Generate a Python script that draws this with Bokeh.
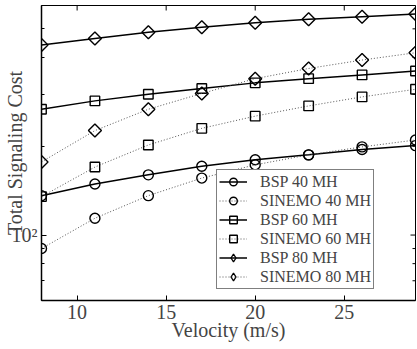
import math
from bokeh.plotting import figure
from bokeh.models import (Range1d, FixedTicker, Legend, LegendItem, ColumnDataSource)
from bokeh.embed import file_html
from bokeh.resources import INLINE

# ---- data ----
velocity = [8, 11, 14, 17, 20, 23, 26, 29]
bsp_40 = [136, 149, 160, 171, 180, 187, 195, 201]
sinemo_40 = [90, 114, 136, 156, 173, 187, 199, 210]
bsp_60 = [267, 285, 300, 314, 328, 339, 349, 360]
sinemo_60 = [135, 170, 202, 230, 253, 274, 294, 312]
bsp_80 = [441, 464, 487, 506, 524, 539, 550, 561]
sinemo_80 = [177, 226, 267, 302, 339, 367, 392, 415]

series_names = ["BSP 40 MH", "SINEMO 40 MH", "BSP 60 MH",
                "SINEMO 60 MH", "BSP 80 MH", "SINEMO 80 MH"]
series_values = [bsp_40, sinemo_40, bsp_60, sinemo_60, bsp_80, sinemo_80]

x_ticks = [10, 15, 20, 25]
y_major = [100]
y_minor = [60, 70, 80, 90, 200, 300, 400, 500, 600]
x_min, x_max = 8, 29
y_min, y_max = 60, 600

FONT = "Liberation Serif"

p = figure(width=417, height=349, y_axis_type="log",
           x_range=Range1d(x_min, x_max), y_range=Range1d(y_min, y_max),
           output_backend="svg", toolbar_location=None,
           min_border_left=41, min_border_right=2, min_border_top=5,
           min_border_bottom=49)
p.background_fill_color = "white"
p.border_fill_color = "white"
p.outline_line_color = "black"
p.outline_line_width = 1
p.xgrid.visible = False
p.ygrid.visible = False

# x axis
xa = p.xaxis[0]
xa.ticker = FixedTicker(ticks=x_ticks)
xa.axis_label = "Velocity (m/s)"
xa.axis_label_text_font = FONT
xa.axis_label_text_font_size = "20px"
xa.axis_label_text_font_style = "normal"
xa.axis_label_standoff = -3
xa.major_label_text_font = FONT
xa.major_label_text_font_size = "20px"
xa.major_label_standoff = 4
xa.major_tick_in = 5
xa.major_tick_out = 0
xa.minor_tick_line_color = None
xa.axis_line_color = "black"
xa.axis_line_width = 1.5

# y axis
ya = p.yaxis[0]
ya.ticker = FixedTicker(ticks=y_major, minor_ticks=y_minor)
ya.major_label_overrides = {100: "10²"}
ya.axis_label = "Total Signaling Cost"
ya.axis_label_text_font = FONT
ya.axis_label_text_font_size = "20px"
ya.axis_label_text_font_style = "normal"
ya.axis_label_standoff = -17
ya.major_label_text_font = FONT
ya.major_label_text_font_size = "20px"
ya.major_label_standoff = 4
ya.major_tick_in = 5
ya.major_tick_out = 0
ya.minor_tick_in = 3
ya.minor_tick_out = 0
ya.axis_line_color = "black"
ya.axis_line_width = 1.5

# mirrored tick marks on top / right (half of each dash is clipped by the frame)
p.scatter(x=x_ticks, y=[y_max] * len(x_ticks), marker="dash", angle=math.pi / 2,
          size=10, line_color="black", line_width=1)
p.scatter(x=[x_max] * len(y_major), y=y_major, marker="dash",
          size=10, line_color="black", line_width=1)
p.scatter(x=[x_max] * len(y_minor), y=y_minor, marker="dash",
          size=6, line_color="black", line_width=1)

markers = ["circle", "circle", "square", "square", "diamond", "diamond"]
sizes = [10, 10, 9.5, 9.5, 9.2, 9.2]

items = []
for i, (name, vals) in enumerate(zip(series_names, series_values)):
    src = ColumnDataSource(dict(x=velocity, y=vals))
    dotted = name.startswith("SINEMO")
    if dotted:
        line_kw = dict(line_color="#555555", line_width=1, line_dash="1 2")
    else:
        line_kw = dict(line_color="black", line_width=1.5)
    lr = p.line("x", "y", source=src, **line_kw)
    if markers[i] == "diamond":
        # MATLAB-style diamond: a square turned by 45 degrees
        p.scatter("x", "y", source=src, marker="square", size=sizes[i],
                  angle=math.pi / 4, fill_color=None, line_color="black",
                  line_width=1.4)
        # zero-size diamond on the same points: invisible in the plot,
        # used only for the legend key (legend sizes its own markers)
        key = p.scatter("x", "y", source=src, marker="diamond", size=0,
                        fill_color=None, line_color="black", line_width=1.3)
        leg_r = [lr, key]
    else:
        mr = p.scatter("x", "y", source=src, marker=markers[i], size=sizes[i],
                       fill_color=None, line_color="black", line_width=1.4)
        leg_r = [lr, mr]
    items.append(LegendItem(label=name, renderers=leg_r))

legend = Legend(items=items, location=(175, 11), border_line_color="black",
                border_line_width=1, background_fill_color="white",
                background_fill_alpha=1, label_text_font=FONT,
                label_text_font_size="16px", padding=2, spacing=0, margin=0,
                label_height=19, glyph_height=19, glyph_width=28,
                label_standoff=13)
p.add_layout(legend, "center")

open("out.html", "w").write(file_html(p, INLINE))
